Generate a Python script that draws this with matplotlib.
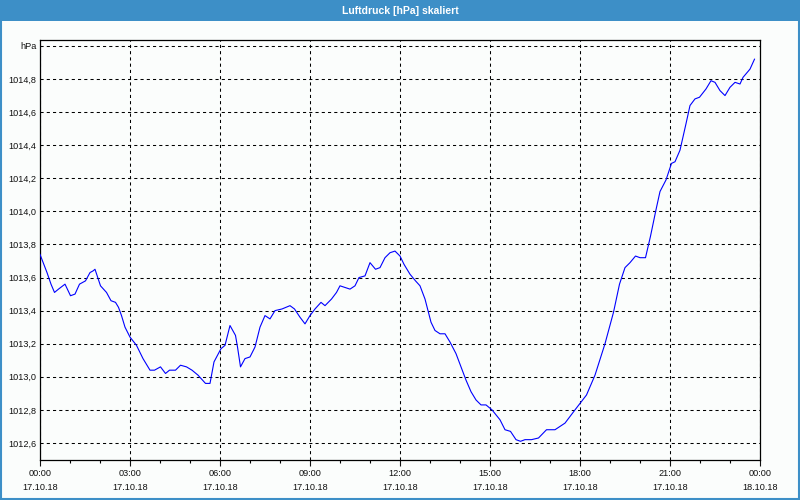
import matplotlib
matplotlib.use("Agg")
import matplotlib.pyplot as plt
from matplotlib.patches import Rectangle
import numpy as np

# ---- data ----
times = ["00:00", "00:14", "00:22", "00:29", "00:37", "00:50", "01:01", "01:10", "01:19", "01:31",
         "01:40", "01:46", "01:50", "02:01", "02:13", "02:22", "02:31", "02:37", "02:43", "02:50",
         "03:00", "03:13", "03:26", "03:40", "03:49", "04:01", "04:11", "04:19", "04:31", "04:41",
         "04:53", "05:04", "05:16", "05:31", "05:40", "05:48", "06:02", "06:10", "06:20", "06:31",
         "06:35", "06:41", "06:50", "07:00", "07:10", "07:20", "07:30", "07:40", "07:50", "08:04",
         "08:20", "08:29", "08:40", "08:50", "09:00", "09:10", "09:22", "09:30", "09:43", "09:53",
         "10:00", "10:10", "10:20", "10:30", "10:38", "10:50", "11:00", "11:11", "11:20", "11:30",
         "11:40", "11:50", "12:00", "12:08", "12:20", "12:31", "12:40", "12:50", "12:56", "13:02",
         "13:10", "13:20", "13:30", "13:40", "13:52", "14:02", "14:12", "14:22", "14:32", "14:42",
         "14:52", "15:04", "15:20", "15:30", "15:41", "15:52", "16:01", "16:10", "16:23", "16:37",
         "16:53", "17:10", "17:30", "17:50", "18:13", "18:30", "18:50", "19:07", "19:19", "19:30",
         "19:40", "19:51", "20:00", "20:11", "20:21", "20:32", "20:40", "20:52", "21:03", "21:10",
         "21:20", "21:32", "21:40", "21:50", "21:59", "22:12", "22:22", "22:30", "22:40", "22:50",
         "23:00", "23:10", "23:20", "23:26", "23:40", "23:49"]
pressure = [1013.74, 1013.63, 1013.56, 1013.51, 1013.53, 1013.56, 1013.49, 1013.50, 1013.56, 1013.58,
            1013.63, 1013.64, 1013.65, 1013.55, 1013.51, 1013.46, 1013.45, 1013.42, 1013.37, 1013.30,
            1013.24, 1013.19, 1013.11, 1013.04, 1013.04, 1013.06, 1013.02, 1013.04, 1013.04, 1013.07,
            1013.06, 1013.04, 1013.01, 1012.96, 1012.96, 1013.09, 1013.17, 1013.19, 1013.31, 1013.25,
            1013.18, 1013.06, 1013.11, 1013.12, 1013.18, 1013.30, 1013.37, 1013.35, 1013.40, 1013.41,
            1013.43, 1013.41, 1013.36, 1013.32, 1013.37, 1013.41, 1013.45, 1013.43, 1013.47, 1013.51,
            1013.55, 1013.54, 1013.53, 1013.55, 1013.60, 1013.61, 1013.69, 1013.65, 1013.66, 1013.72,
            1013.75, 1013.76, 1013.73, 1013.68, 1013.62, 1013.58, 1013.55, 1013.47, 1013.40, 1013.33,
            1013.28, 1013.26, 1013.26, 1013.21, 1013.14, 1013.06, 1012.98, 1012.91, 1012.86, 1012.83,
            1012.83, 1012.80, 1012.74, 1012.68, 1012.67, 1012.62, 1012.61, 1012.62, 1012.62, 1012.63,
            1012.68, 1012.68, 1012.72, 1012.80, 1012.89, 1013.01, 1013.20, 1013.39, 1013.56, 1013.66,
            1013.69, 1013.73, 1013.72, 1013.72, 1013.85, 1014.01, 1014.12, 1014.19, 1014.29, 1014.30,
            1014.37, 1014.53, 1014.64, 1014.68, 1014.69, 1014.74, 1014.79, 1014.78, 1014.73, 1014.70,
            1014.75, 1014.78, 1014.77, 1014.81, 1014.86, 1014.92]

xtick_hours = [0, 3, 6, 9, 12, 15, 18, 21, 24]
xtick_labels = ["00:00\n17.10.18", "03:00\n17.10.18", "06:00\n17.10.18", "09:00\n17.10.18",
                "12:00\n17.10.18", "15:00\n17.10.18", "18:00\n17.10.18", "21:00\n17.10.18",
                "00:00\n18.10.18"]
ytick_values = [1012.6, 1012.8, 1013.0, 1013.2, 1013.4, 1013.6, 1013.8, 1014.0, 1014.2, 1014.4,
                1014.6, 1014.8, 1015.0]
ytick_labels = ["1012,6", "1012,8", "1013,0", "1013,2", "1013,4", "1013,6", "1013,8", "1014,0",
                "1014,2", "1014,4", "1014,6", "1014,8", "hPa"]
title = "Luftdruck [hPa] skaliert"

hours = [int(t[:2]) + int(t[3:]) / 60.0 for t in times]

# ---- figure ----
plt.rcParams['font.family'] = ['Liberation Sans', 'DejaVu Sans']
bg = '#fbfdfc'
bar = '#3d8fc7'
fig = plt.figure(figsize=(8, 5), dpi=100, facecolor=bg)

# title bar and outer border
fig.patches.append(Rectangle((0, 0.958), 1, 0.042, transform=fig.transFigure,
                             facecolor=bar, edgecolor='none', zorder=0))
fig.patches.append(Rectangle((0.001, 0.002), 0.998, 0.997, transform=fig.transFigure,
                             facecolor='none', edgecolor=bar, linewidth=1.5, zorder=0))
fig.text(0.5, 0.979, title, color='white', fontsize=7.5, fontweight='bold',
         ha='center', va='center')

ax = fig.add_axes([0.05, 0.08, 0.90, 0.84])
ax.set_facecolor(bg)
ax.plot(hours, pressure, color='#0000ff', linewidth=0.8, zorder=3)

ax.set_xlim(0, 24)
ax.set_ylim(1012.497, 1015.036)

ax.set_xticks(xtick_hours)
ax.set_xticklabels(xtick_labels)
ax.set_xticks(np.arange(0, 25, 1), minor=True)
ax.set_yticks(ytick_values)
ax.set_yticklabels(ytick_labels)

for lbl in ax.get_xticklabels():
    lbl.set_linespacing(1.75)

ax.tick_params(axis='x', which='major', direction='out', length=4, width=0.8,
               pad=2.5, labelsize=6.6, colors='#111111')
ax.tick_params(axis='x', which='minor', direction='out', length=2, width=0.8)
ax.tick_params(axis='y', which='major', length=0, pad=2.5, labelsize=6.6, colors='#111111')

ax.grid(True, which='major', color='black', linewidth=0.75, linestyle=(0, (3, 3)))
for sp in ax.spines.values():
    sp.set_color('black')
    sp.set_linewidth(0.9)

fig.savefig('out.png', dpi=100, facecolor=bg)
